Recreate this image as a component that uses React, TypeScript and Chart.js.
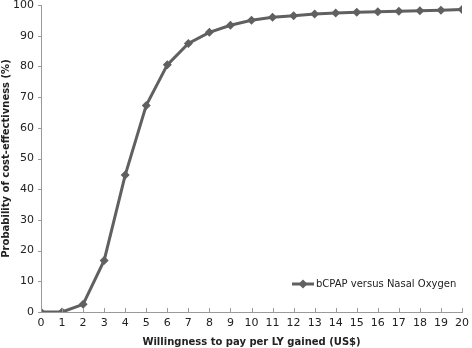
import React, { useEffect, useRef } from "react";
import { Chart, registerables } from "chart.js";

Chart.register(...registerables);

const wtp = [0, 1, 2, 3, 4, 5, 6, 7, 8, 9, 10, 11, 12, 13, 14, 15, 16, 17, 18, 19, 20];
const probability = [0, 0, 2.5, 16.8, 44.6, 67.3, 80.5, 87.5, 91.1, 93.4, 95.0, 96.0, 96.5, 97.1, 97.4, 97.6, 97.8, 98.0, 98.1, 98.3, 98.5];
const seriesLabel = "bCPAP versus Nasal Oxygen";
const xTitle = "Willingness to pay per LY gained (US$)";
const yTitle = "Probability of cost-effectivness (%)";

const FONT = "'DejaVu Sans', Verdana, sans-serif";
const LINE = "#606060";
const AXIS = "#9a9a9a";

const innerTicksPlugin = {
  id: "innerTicks",
  afterDatasetsDraw(chart: any) {
    const ctx = chart.ctx;
    const { left, bottom } = chart.chartArea;
    const xs = chart.scales.x;
    const ys = chart.scales.y;
    ctx.save();
    ctx.strokeStyle = AXIS;
    ctx.lineWidth = 1;
    ctx.beginPath();
    xs.ticks.forEach((t: any) => {
      const px = Math.round(xs.getPixelForValue(t.value)) + 0.5;
      ctx.moveTo(px, bottom);
      ctx.lineTo(px, bottom - 4);
    });
    ys.ticks.forEach((t: any) => {
      const py = Math.round(ys.getPixelForValue(t.value)) + 0.5;
      ctx.moveTo(left, py);
      ctx.lineTo(left - 3, py);
    });
    ctx.stroke();
    ctx.restore();
  },
};

const legendPlugin = {
  id: "customLegend",
  afterDraw(chart: any) {
    const ctx = chart.ctx;
    const ds = chart.data.datasets[0];
    const x0 = 292;
    const y0 = 284;
    ctx.save();
    ctx.strokeStyle = LINE;
    ctx.lineWidth = 3;
    ctx.beginPath();
    ctx.moveTo(x0, y0);
    ctx.lineTo(x0 + 22, y0);
    ctx.stroke();
    ctx.fillStyle = LINE;
    const cx = x0 + 11;
    const r = 4.5;
    ctx.beginPath();
    ctx.moveTo(cx, y0 - r);
    ctx.lineTo(cx + r, y0);
    ctx.lineTo(cx, y0 + r);
    ctx.lineTo(cx - r, y0);
    ctx.closePath();
    ctx.fill();
    ctx.fillStyle = "#222";
    ctx.font = `10px ${FONT}`;
    ctx.textBaseline = "middle";
    ctx.textAlign = "left";
    ctx.fillText(ds.label, x0 + 24, y0);
    ctx.restore();
  },
};

export default function App() {
  const ref = useRef<HTMLCanvasElement>(null);
  useEffect(() => {
    document.body.style.margin = "0";
    const chart = new Chart(ref.current!, {
      type: "line",
      data: {
        labels: wtp,
        datasets: [
          {
            label: seriesLabel,
            data: wtp.map((x, i) => ({ x, y: probability[i] })),
            borderColor: LINE,
            backgroundColor: LINE,
            borderWidth: 3,
            pointStyle: "rectRot",
            pointRadius: 4.5,
            pointBackgroundColor: LINE,
            pointBorderColor: LINE,
            pointBorderWidth: 0,
            tension: 0,
          },
        ],
      },
      options: {
        animation: false,
        responsive: false,
        layout: { padding: { top: 5, right: 10, left: 0, bottom: 0 } },
        plugins: { legend: { display: false }, tooltip: { enabled: false } },
        scales: {
          x: {
            type: "linear",
            min: 0,
            max: 20,
            afterFit: (s: any) => {
              s.height = 36;
              s.paddingLeft = 0;
              s.paddingRight = 0;
            },
            border: { color: AXIS, width: 1 },
            grid: { display: true, drawOnChartArea: false, drawTicks: false, color: AXIS },
            ticks: {
              stepSize: 1,
              autoSkip: false,
              maxRotation: 0,
              color: "#222",
              padding: 5,
              font: { family: FONT, size: 11 },
            },
            title: {
              display: true,
              text: xTitle,
              color: "#222",
              padding: { top: 3, bottom: 0 },
              font: { family: FONT, size: 10, weight: "bold" },
            },
          },
          y: {
            min: 0,
            max: 100,
            afterFit: (s: any) => {
              s.width = 41;
              s.paddingTop = 0;
              s.paddingBottom = 0;
            },
            border: { color: AXIS, width: 1 },
            grid: { display: true, drawOnChartArea: false, drawTicks: false, color: AXIS },
            ticks: {
              stepSize: 10,
              color: "#222",
              padding: 7,
              font: { family: FONT, size: 11 },
            },
            title: {
              display: true,
              text: yTitle,
              color: "#222",
              padding: { top: 0, bottom: 0 },
              font: { family: FONT, size: 10, weight: "bold" },
            },
          },
        },
      } as any,
      plugins: [innerTicksPlugin, legendPlugin],
    });
    return () => chart.destroy();
  }, []);
  return (
    <div style={{ width: 472, height: 348 }}>
      <canvas ref={ref} width={472} height={348} />
    </div>
  );
}
